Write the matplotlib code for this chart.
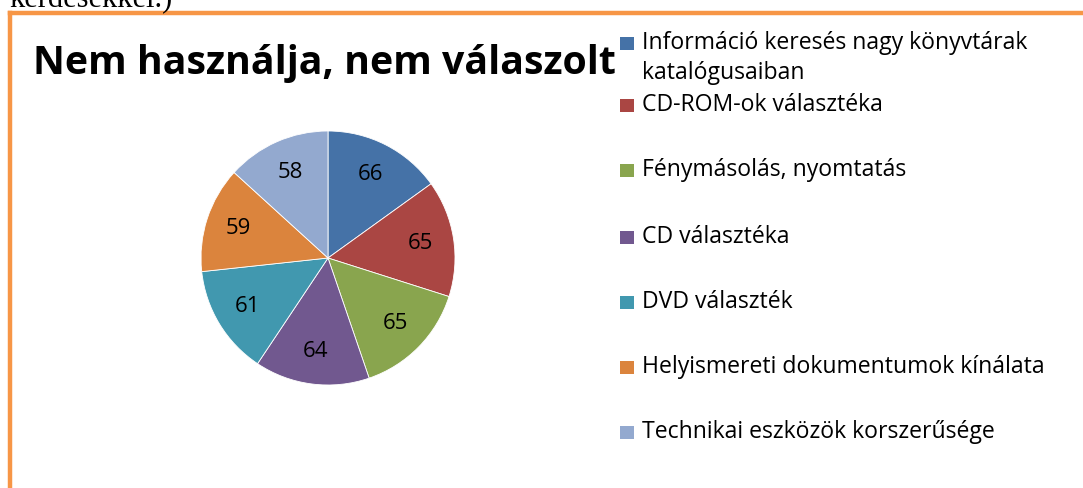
"""Nem használja, nem válaszolt - kördiagram (Excel-stílus)."""
import matplotlib
matplotlib.use("Agg")
import matplotlib.pyplot as plt
from matplotlib.lines import Line2D
from matplotlib.patches import Rectangle

W, H = 1083, 488

title = "Nem használja, nem válaszolt"
categories = [
    "Információ keresés nagy könyvtárak\nkatalógusaiban",
    "CD-ROM-ok választéka",
    "Fénymásolás, nyomtatás",
    "CD választéka",
    "DVD választék",
    "Helyismereti dokumentumok kínálata",
    "Technikai eszközök korszerűsége",
]
values = [66, 65, 65, 64, 61, 59, 58]
colors = ["#4572A7", "#AA4643", "#89A54E", "#71588F", "#4198AF", "#DB843D", "#93A9CF"]

plt.rcParams["font.family"] = ["Open Sans", "DejaVu Sans"]

fig = plt.figure(figsize=(W / 100, H / 100), dpi=100)


def fx(px):
    return px / W


def fy(py):
    return 1 - py / H


# a dokumentum előző sorának levágott alja
fig.text(fx(9), fy(7), "kérdésekkel.)", family=["Liberation Serif"], fontsize=22,
         va="baseline", ha="left", color="black")

# narancs keret
orange = "#F79646"
fig.add_artist(Line2D([fx(10), fx(10)], [fy(13), fy(H + 5)], color=orange, lw=3.2))
fig.add_artist(Line2D([fx(10), fx(W + 5)], [fy(13), fy(13)], color=orange, lw=3.2))

fig.text(fx(33), fy(74), title, fontsize=28.3, fontweight="bold", va="baseline", ha="left")

# kör
cx, cy, r = 328, 258, 127
ax = fig.add_axes([fx(cx - r), fy(cy + r), 2 * r / W, 2 * r / H])
wedges, texts = ax.pie(values, colors=colors, startangle=90, counterclock=False,
                       labels=[str(v) for v in values], labeldistance=0.74,
                       wedgeprops=dict(edgecolor="white", linewidth=0.6))
for t in texts:
    t.set_ha("center")
    t.set_va("center")
    t.set_fontsize(16)
ax.set_xlim(-1, 1)
ax.set_ylim(-1, 1)
ax.axis("off")

# jelmagyarázat
ys = [43, 105, 170, 237, 302, 367, 432]
for lab, col, y in zip(categories, colors, ys):
    fig.add_artist(Rectangle((fx(620), fy(y + 7)), 14 / W, 13 / H, facecolor=col,
                             edgecolor="none", transform=fig.transFigure))
    lines = lab.split("\n")
    for k, ln in enumerate(lines):
        fig.text(fx(642), fy(y + k * 30), ln, fontsize=16.6, va="center", ha="left")

fig.savefig("out.png", dpi=100)
